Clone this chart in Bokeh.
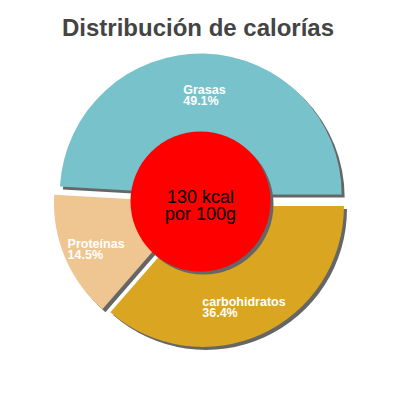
import numpy as np
from bokeh.plotting import figure
from bokeh.models import ColumnDataSource, Range1d
from bokeh.core.properties import value
from bokeh.embed import file_html
from bokeh.resources import INLINE

# ---- data ----
title_text = "Distribución de calorías"
categories = ["Grasas", "Proteínas", "carbohidratos"]
percents = [49.1, 14.5, 36.4]
colors = ["#78c3cb", "#efc591", "#daa520"]
center_lines = ["130 kcal", "por 100g"]

# ---- layout (screen px, y measured downward from top of 400px window) ----
W = H = 384
OFF = 0
def Y(sy):
    return 400 - sy

CX, CY = 200, 200
R = 141
EXPLODE = 6
SHADOW = 3
LABEL_R = 105
HOLE_X, HOLE_Y, HOLE_R = 200, 201, 70

p = figure(width=W, height=H, output_backend="svg", toolbar_location=None,
           x_range=Range1d(OFF, OFF + W), y_range=Range1d(400 - OFF - H, 400 - OFF),
           min_border=0)
p.axis.visible = False
p.grid.visible = False
p.outline_line_color = None
p.background_fill_color = "white"
p.border_fill_color = "white"

frac = np.array(percents) / sum(percents)
ends = np.cumsum(frac) * 2 * np.pi
starts = np.concatenate([[0.0], ends[:-1]])
mids = (starts + ends) / 2
sx = CX + EXPLODE * np.cos(mids)
sy = Y(CY) + EXPLODE * np.sin(mids)

src = ColumnDataSource(dict(x=sx, y=sy, sx=sx + SHADOW, sy=sy - SHADOW,
                            start=starts, end=ends, color=colors))
p.wedge(x="sx", y="sy", radius=R, start_angle="start", end_angle="end",
        fill_color="#666666", line_color=None, source=src)
p.wedge(x="x", y="y", radius=R, start_angle="start", end_angle="end",
        fill_color="color", line_color=None, source=src)

# center circle with shadow
p.circle(x=[HOLE_X + SHADOW], y=[Y(HOLE_Y) - SHADOW], radius=HOLE_R,
         fill_color="#666666", line_color=None)
p.circle(x=[HOLE_X], y=[Y(HOLE_Y)], radius=HOLE_R, fill_color="#ff0000", line_color=None)

# slice labels
CHAR_W = 6.8
lx, ly1, ly2, t1, t2 = [], [], [], [], []
for i, name in enumerate(categories):
    bx = sx[i] + LABEL_R * np.cos(mids[i])
    by = sy[i] + LABEL_R * np.sin(mids[i])
    pct = f"{percents[i]:.1f}%"
    w = CHAR_W * max(len(name), len(pct))
    lx.append(bx - w / 2)
    ly1.append(by)
    ly2.append(by - 11.5)
    t1.append(name)
    t2.append(pct)
p.text(x=lx + lx, y=ly1 + ly2, text=t1 + t2, text_color="white",
       text_font=value("Liberation Sans"), text_font_size="12.5px",
       text_font_style="bold", text_align="left", text_baseline="alphabetic")

# center text
p.text(x=[HOLE_X, HOLE_X], y=[Y(196.7), Y(213.5)], text=center_lines,
       text_color="black", text_font=value("Liberation Sans"), text_font_size="18px",
       text_align="center", text_baseline="alphabetic")

# title
p.text(x=[197.5], y=[Y(27)], text=[title_text], text_color="#444444",
       text_font=value("Liberation Sans"), text_font_size="24px",
       text_font_style="bold", text_align="center", text_baseline="alphabetic")

open("out.html", "w").write(file_html(p, INLINE))
